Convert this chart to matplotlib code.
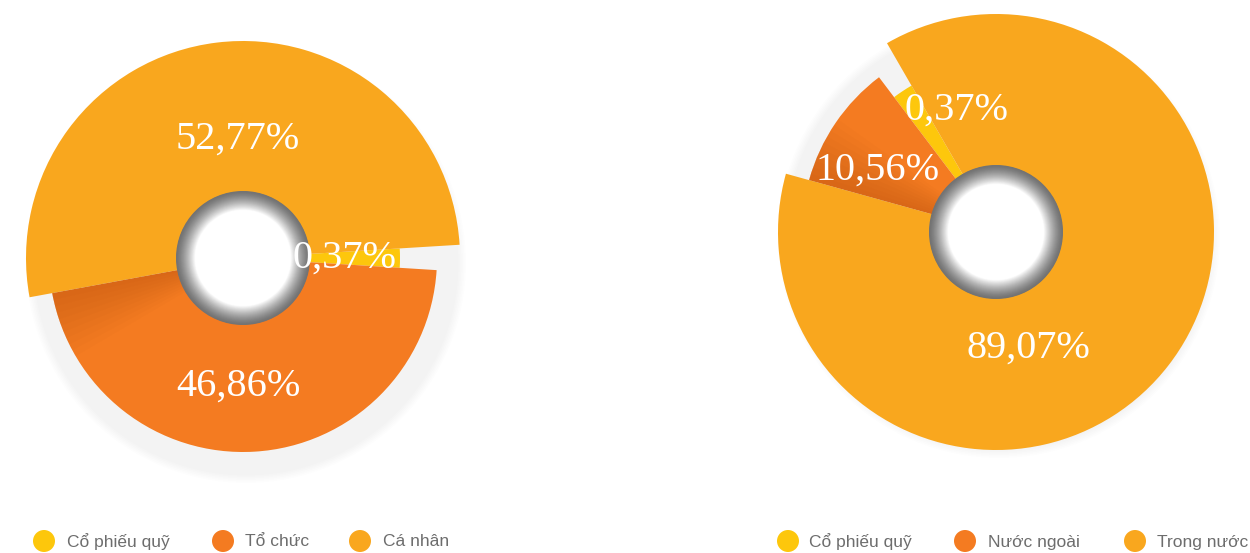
import numpy as np
import matplotlib
matplotlib.use("Agg")
import matplotlib.pyplot as plt
from matplotlib.patches import Circle, Wedge

# data
left_labels = ["Cổ phiếu quỹ", "Tổ chức", "Cá nhân"]
left_values = [0.37, 46.86, 52.77]
right_labels = ["Cổ phiếu quỹ", "Nước ngoài", "Trong nước"]
right_values = [0.37, 10.56, 89.07]

colors = ["#FDC70C", "#F47B21", "#F9A71E"]
# tiny slices are widened so they stay visible, as in the original
min_share = 2.0

W, H = 1250, 553
fig = plt.figure(figsize=(12.5, 5.53), dpi=100)
ax = fig.add_axes([0, 0, 1, 1])


def fmt(v):
    return f"{v:.2f}".replace(".", ",") + "%"


def draw_donut(center, values, radii, start, counterclock, shade_idx):
    shown = [max(v, min_share) for v in values]
    # soft shadow
    for k in range(6):
        ax.add_patch(Circle((center[0] + 3, center[1] - 5), max(radii) + 3 - k * 1.5,
                            color="#000000", alpha=0.006, lw=0, zorder=1))
    wedges, _ = ax.pie(shown, colors=colors, startangle=start, counterclock=counterclock,
                       center=center, radius=max(radii), normalize=True,
                       wedgeprops=dict(linewidth=0), frame=True)
    for w, r in zip(wedges, radii):
        w.set_radius(r)
        w.set_zorder(2)
    # darker shading on the orange slice close to the edge of the light slice
    w = wedges[shade_idx]
    if counterclock:
        edge, sgn = w.theta2, -1
    else:
        edge, sgn = w.theta1, 1
    for k in range(10):
        span = 2 + k * 2.0
        a1, a2 = (edge, edge + sgn * span) if sgn > 0 else (edge + sgn * span, edge)
        ax.add_patch(Wedge(center, radii[shade_idx], min(a1, a2), max(a1, a2),
                           color="#7a2a00", alpha=0.018, lw=0, zorder=3))
    # grey ring with radial gradient
    r_out, r_in = 67, 42
    n = 40
    for i in range(n + 1):
        t = i / n
        r = r_out - (r_out - r_in - 6) * t
        g = 0.45 + 0.55 * t ** 1.4
        ax.add_patch(Circle(center, r, color=(g, g, g), lw=0, zorder=4))
    ax.add_patch(Circle(center, r_in, color="white", lw=0, zorder=5))


lc = (243, H - 258)
rc = (996, H - 232)
draw_donut(lc, left_values, [157, 194, 217], 3.5, False, 1)
draw_donut(rc, right_values, [169, 194, 218], 120, True, 1)
ax.set_xlim(0, W)
ax.set_ylim(0, H)
ax.set_aspect("equal")
ax.axis("off")

serif = dict(family="Liberation Serif", color="white", fontsize=29,
             ha="center", va="center", zorder=6)
lab_pos_left = [(344, 258), (238, 386), (238, 139)]
lab_pos_right = [(957, 110), (878, 170), (1028, 348)]
for v, (x, y) in zip(left_values, lab_pos_left):
    ax.text(x, H - y, fmt(v), **serif)
for v, (x, y) in zip(right_values, lab_pos_right):
    ax.text(x, H - y, fmt(v), **serif)

# legends
leg_left = [(44, 67), (223, 245), (360, 383)]
leg_right = [(788, 809), (965, 988), (1135, 1157)]
for labels, pos in ((left_labels, leg_left), (right_labels, leg_right)):
    for lab, c, (cx, tx) in zip(labels, colors, pos):
        ax.add_patch(Circle((cx, H - 541), 11, color=c, lw=0, zorder=6))
        ax.text(tx, H - 542, lab, family="Liberation Sans", fontsize=12.5,
                color="#6d6d6d", ha="left", va="center", zorder=6)

fig.savefig("out.png", dpi=100, facecolor="white")
